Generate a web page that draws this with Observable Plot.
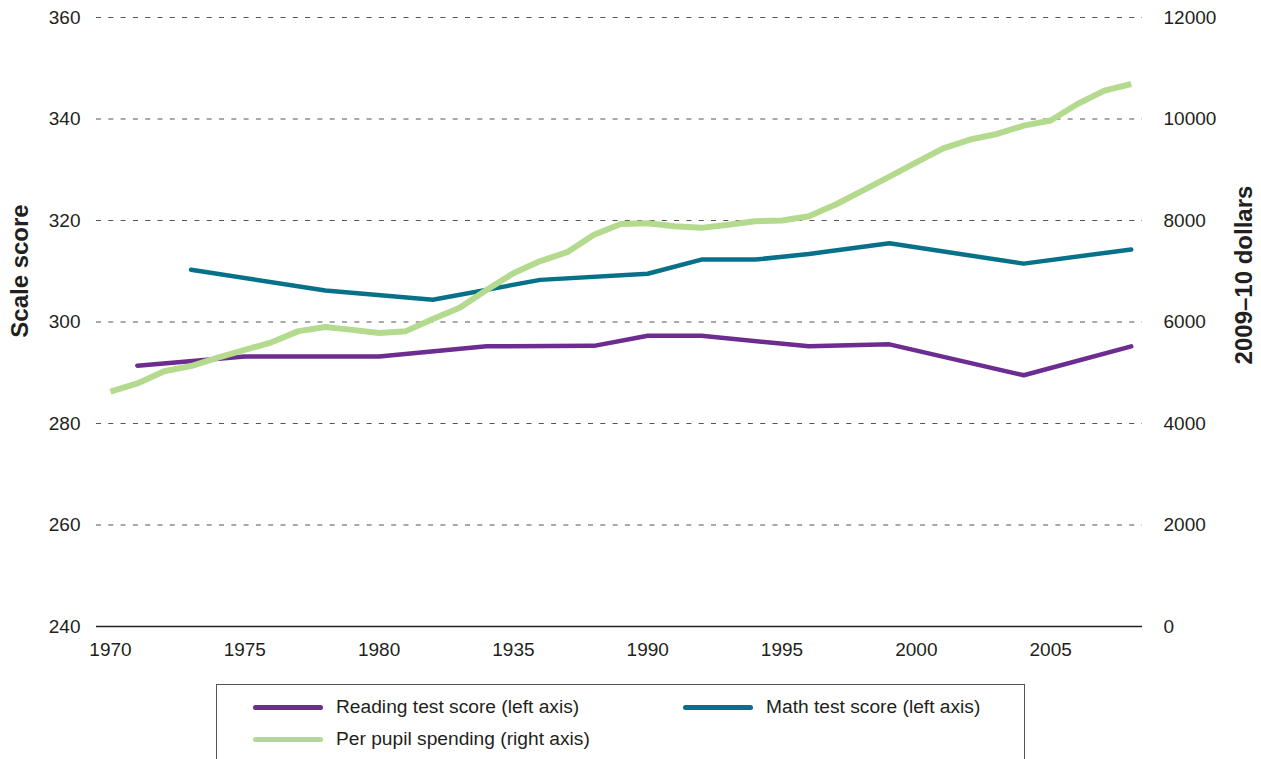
<!DOCTYPE html>
<html>
<head>
<meta charset="utf-8">
<script src="https://cdn.jsdelivr.net/npm/d3@7"></script>
<script src="https://cdn.jsdelivr.net/npm/@observablehq/plot@0.6"></script>
<style>
  html, body { margin: 0; padding: 0; background: #fff; }
  #wrap { position: relative; width: 1261px; height: 759px; overflow: hidden; font-family: "Liberation Sans", Arial, sans-serif; color: #231f20; }
  #chart svg { display: block; }
  #legend { position: absolute; left: 216px; top: 684px; width: 809px; height: 90px; border: 1.3px solid #555; box-sizing: border-box; }
  .item { position: absolute; display: flex; align-items: center; font-size: 19.2px; white-space: nowrap; }
  .sw { width: 70px; height: 5px; border-radius: 3px; margin-right: 13px; }
</style>
</head>
<body>
<div id="wrap">
  <div id="chart"></div>
  <div id="legend"></div>
</div>
<script>
// ---- data ----
const readingYears  = [1971, 1975, 1980, 1984, 1988, 1990, 1992, 1996, 1999, 2004, 2008];
const readingScores = [291.4, 293.2, 293.2, 295.2, 295.3, 297.3, 297.3, 295.2, 295.6, 289.5, 295.2];

const mathYears  = [1973, 1978, 1982, 1986, 1990, 1992, 1994, 1996, 1999, 2004, 2008];
const mathScores = [310.3, 306.2, 304.4, 308.3, 309.5, 312.3, 312.3, 313.4, 315.5, 311.5, 314.3];

const spendYears = [1970, 1971, 1972, 1973, 1974, 1975, 1976, 1977, 1978, 1979,
                    1980, 1981, 1982, 1983, 1984, 1985, 1986, 1987, 1988, 1989,
                    1990, 1991, 1992, 1993, 1994, 1995, 1996, 1997, 1998, 1999,
                    2000, 2001, 2002, 2003, 2004, 2005, 2006, 2007, 2008];
const spendValues = [4630, 4790, 5030, 5130, 5300, 5450, 5600, 5820, 5900, 5845,
                     5785, 5820, 6060, 6280, 6630, 6960, 7200, 7375, 7720, 7930,
                     7945, 7885, 7855, 7915, 7985, 8000, 8085, 8315, 8590, 8865,
                     9145, 9420, 9595, 9705, 9870, 9970, 10295, 10560, 10690];

const leftTicks = [240, 260, 280, 300, 320, 340, 360];
const rightTickLabels = ["0", "2000", "4000", "6000", "8000", "10000", "12000"];
const xTicks = [1970, 1975, 1980, 1985, 1990, 1995, 2000, 2005];
const xTickLabels = ["1970", "1975", "1980", "1935", "1990", "1995", "2000", "2005"];

const seriesNames = ["Reading test score (left axis)", "Math test score (left axis)", "Per pupil spending (right axis)"];
const colors = ["#6c2c90", "#08718a", "#b4da8d"];

// ---- tables ----
const reading = readingYears.map((y, i) => ({year: y, value: readingScores[i]}));
const math = mathYears.map((y, i) => ({year: y, value: mathScores[i]}));
const spending = spendYears.map((y, i) => ({year: y, value: spendValues[i]}));
const rightMap = new Map(leftTicks.map((t, i) => [t, rightTickLabels[i]]));
const xMap = new Map(xTicks.map((t, i) => [t, xTickLabels[i]]));
// right axis: 12000 dollars <-> 360 on the left axis (0 <-> 240)
const spendToLeft = v => 240 + v / 100;

const chart = Plot.plot({
  width: 1261,
  height: 672,
  marginTop: 17,
  marginBottom: 46,
  marginLeft: 96,
  marginRight: 119,
  style: {fontFamily: "'Liberation Sans', Arial, sans-serif", fontSize: "19px", color: "#231f20", background: "#fff", overflow: "visible"},
  x: {domain: [1969.48, 2008.42], axis: null},
  y: {domain: [240, 360], axis: null},
  marks: [
    Plot.ruleY(leftTicks.filter(d => d > 240), {stroke: "#555", strokeWidth: 1.1, strokeDasharray: "5,7.3"}),
    Plot.ruleY([240], {stroke: "#222", strokeWidth: 1.4}),
    Plot.axisY({anchor: "left", ticks: leftTicks, tickSize: 0, tickPadding: 16, label: null}),
    Plot.axisY({anchor: "right", ticks: leftTicks, tickSize: 0, tickPadding: 21, tickFormat: d => rightMap.get(d), label: null}),
    Plot.axisX({anchor: "bottom", ticks: xTicks, tickSize: 0, tickPadding: 16, tickFormat: d => xMap.get(d), label: null}),
    Plot.line(reading, {x: "year", y: "value", stroke: colors[0], strokeWidth: 4.5, strokeLinecap: "round", strokeLinejoin: "round"}),
    Plot.line(math, {x: "year", y: "value", stroke: colors[1], strokeWidth: 4.5, strokeLinecap: "round", strokeLinejoin: "round"}),
    Plot.line(spending, {x: "year", y: d => spendToLeft(d.value), stroke: colors[2], strokeWidth: 6, strokeLinecap: "butt", strokeLinejoin: "round"}),
    Plot.text(["Scale score"], {text: d => d, frameAnchor: "left", textAnchor: "middle", lineAnchor: "middle", rotate: -90, dx: -76, dy: -51, fontWeight: "bold", fontSize: 24}),
    Plot.text(["2009\u201310 dollars"], {text: d => d, frameAnchor: "right", textAnchor: "middle", lineAnchor: "middle", rotate: -90, dx: 102, dy: -47, fontWeight: "bold", fontSize: 24})
  ]
});
document.getElementById("chart").appendChild(chart);

// ---- legend ----
const legend = document.getElementById("legend");
const pos = [[36, 22], [466, 22], [36, 54]];
seriesNames.forEach((name, i) => {
  const el = document.createElement("div");
  el.className = "item";
  el.style.left = pos[i][0] + "px";
  el.style.top = (pos[i][1] - 12) + "px";
  el.style.height = "24px";
  el.innerHTML = `<span class="sw" style="background:${colors[i]}"></span><span>${name}</span>`;
  legend.appendChild(el);
});
</script>
</body>
</html>
